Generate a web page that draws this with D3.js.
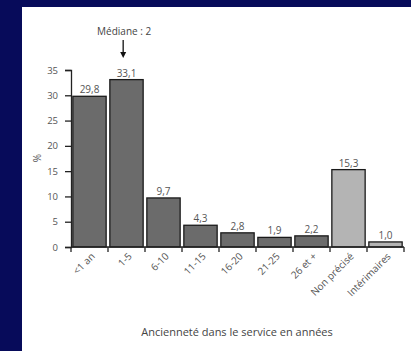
<!DOCTYPE html>
<html><head><meta charset="utf-8">
<script src="https://cdn.jsdelivr.net/npm/d3@7"></script>
<style>
html,body{margin:0;padding:0;background:#070b5a;}
svg{display:block;}
text{font-family:"Open Sans",sans-serif;}
</style></head>
<body>
<script>
const categories = ["<1 an","1-5","6-10","11-15","16-20","21-25","26 et +","Non précisé","Intérimaires"];
const values = [29.8,33.1,9.7,4.3,2.8,1.9,2.2,15.3,1.0];
const valueLabels = ["29,8","33,1","9,7","4,3","2,8","1,9","2,2","15,3","1,0"];
const groups = ["ancien","ancien","ancien","ancien","ancien","ancien","ancien","autre","autre"];
const yTicks = [0,5,10,15,20,25,30,35];
const medianLabel = "Médiane : 2";
const medianCategory = "1-5";
const xTitle = "Ancienneté dans le service en années";
const yTitle = "%";

const W = 411, H = 351;
const svg = d3.select("body").append("svg").attr("width", W).attr("height", H);
svg.append("rect").attr("x",0).attr("y",0).attr("width",W).attr("height",H).attr("fill","#070b5a");
svg.append("rect").attr("x",22).attr("y",7).attr("width",W-22).attr("height",H-7).attr("fill","#ffffff");

const x = d3.scaleBand().domain(categories).range([71,404]).paddingInner(0.1).paddingOuter(0.05);
const y = d3.scaleLinear().domain([0,35]).range([247,70]);
const color = d3.scaleOrdinal().domain(["ancien","autre"]).range(["#6b6b6b","#b4b4b4"]);

// bars
svg.selectAll("rect.bar").data(categories).enter().append("rect")
  .attr("class","bar")
  .attr("x", d => x(d))
  .attr("y", (d,i) => y(values[i]))
  .attr("width", x.bandwidth())
  .attr("height", (d,i) => y(0) - y(values[i]))
  .attr("fill", (d,i) => color(groups[i]))
  .attr("stroke","#1a1a1a").attr("stroke-width",1.3);

// value labels
svg.selectAll("text.val").data(categories).enter().append("text")
  .attr("x", d => x(d) + x.bandwidth()/2)
  .attr("y", (d,i) => y(values[i]) - 3)
  .attr("text-anchor","middle")
  .attr("font-size", 10)
  .attr("fill","#555")
  .text((d,i) => valueLabels[i]);

// y axis
const yAxis = d3.axisLeft(y).tickValues(yTicks).tickSize(6).tickPadding(7);
const gy = svg.append("g").attr("transform","translate(71,0)").call(yAxis);
gy.select(".domain").attr("stroke","#222").attr("stroke-width",1.3);
gy.selectAll(".tick line").attr("stroke","#222").attr("stroke-width",1.3);
gy.selectAll(".tick text").attr("font-size",9.5).attr("fill","#555").attr("font-family","Open Sans");

// x axis (band boundaries)
const boundaries = d3.range(categories.length+1).map(i => 71 + i*(404-71)/categories.length);
svg.append("line").attr("x1",71).attr("x2",404).attr("y1",y(0)).attr("y2",y(0)).attr("stroke","#222").attr("stroke-width",1.3);
svg.selectAll("line.xt").data(boundaries).enter().append("line")
  .attr("x1",d=>d).attr("x2",d=>d).attr("y1",y(0)).attr("y2",y(0)+5)
  .attr("stroke","#222").attr("stroke-width",1.3);

svg.selectAll("text.xl").data(categories).enter().append("text")
  .attr("transform", d => `translate(${x(d)+x.bandwidth()/2+6},${y(0)+10}) rotate(-45)`)
  .attr("text-anchor","end")
  .attr("font-size",10)
  .attr("fill","#555")
  .text(d => d);

// y title
svg.append("text").attr("transform","translate(41,158) rotate(-90)")
  .attr("text-anchor","middle").attr("font-size",10).attr("fill","#555").text(yTitle);

// x title
svg.append("text").attr("x",237).attr("y",336).attr("text-anchor","middle")
  .attr("font-size",11).attr("fill","#444").text(xTitle);

// median annotation
const mx = x(medianCategory) + x.bandwidth()*0.4;
svg.append("text").attr("x",mx+1).attr("y",35).attr("text-anchor","middle")
  .attr("font-size",10).attr("fill","#444").text(medianLabel);
svg.append("line").attr("x1",mx).attr("x2",mx).attr("y1",40).attr("y2",54)
  .attr("stroke","#111").attr("stroke-width",1.3);
svg.append("path").attr("d",`M${mx-3},${52} L${mx+3},${52} L${mx},${58} Z`).attr("fill","#111");
</script>
</body></html>
